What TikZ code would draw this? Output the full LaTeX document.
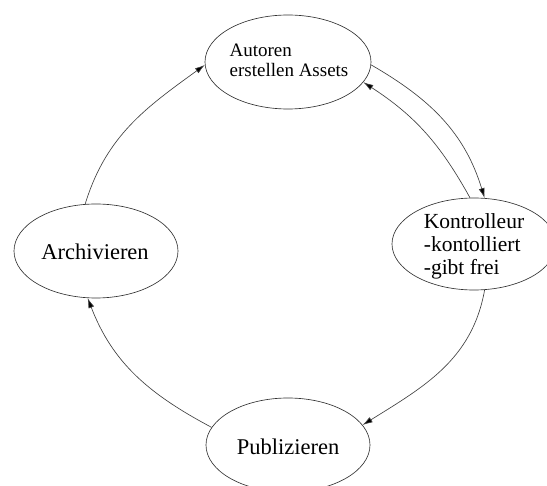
\documentclass[tikz,border=0pt]{standalone}
\usepackage{fontspec}
\setmainfont{Liberation Serif}
\usetikzlibrary{shapes.geometric,arrows.meta}
\begin{document}
\begin{tikzpicture}[x=1pt,y=-1pt,
  ell/.style={ellipse,draw=black!80,line width=0.65pt,inner sep=0pt,minimum width=166pt,minimum height=94pt},
  lbl/.style={align=left,inner sep=0pt,text=black},
  conn/.style={draw=black!75,line width=0.65pt,-{Latex[length=10pt,width=6pt,fill=black]}}]
\useasboundingbox (0,0) rectangle (547,486);
\node[ell] (autoren) at (288,62) {};
\node[ell,minimum width=164pt,minimum height=92pt] (kontrolle) at (474,244) {};
\node[ell,minimum width=164pt] (archiv) at (96,251) {};
\node[ell,minimum width=164pt] (publ) at (288,445) {};

\node[lbl,font=\fontsize{19}{20}\selectfont] (tAutoren) at (289,60) {Autoren\\erstellen Assets};
\node[lbl,font=\fontsize{21.5}{23}\selectfont] (tKontrolle) at (474,246) {Kontrolleur\\-kontolliert\\-gibt frei};
\node[lbl,font=\fontsize{22.5}{24}\selectfont] (tArchiv) at (95,252) {Archivieren};
\node[lbl,font=\fontsize{22.5}{24}\selectfont] (tPubl) at (288,447) {Publizieren};

\draw[conn] (autoren.-2) to[out=-30,in=107] (kontrolle.77);
\draw[conn] (kontrolle.95) to[out=119,in=-33] (autoren.-15);
\draw[conn] (kontrolle.-77) to[out=-100,in=32] (publ.15);
\draw[conn] (publ.167) to[out=152,in=-69] (archiv.260);
\draw[conn] (archiv.103) to[out=73,in=-144] (autoren.182);
\end{tikzpicture}
\end{document}
